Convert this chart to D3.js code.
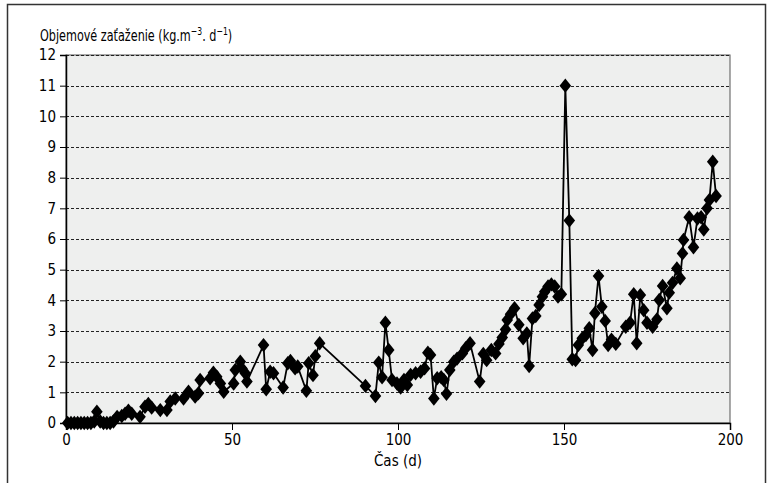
<!DOCTYPE html>
<html>
<head>
<meta charset="utf-8">
<script src="https://cdn.jsdelivr.net/npm/d3@7"></script>
<style>
	body { margin: 0; background: #fff; }
	svg { display: block; }
	text { font-family: "DejaVu Sans Condensed", "Liberation Sans Narrow", "DejaVu Sans", sans-serif; font-stretch: condensed; fill: #000; }
</style>
</head>
<body>
<div id="chart"></div>
<script>
'use strict';

// time in days
var days = [
	0.5, 1.5, 2.5, 3.5, 4.5, 5.5, 6.5, 7.5, 8.5, 9.3, 10.3, 11.3, 12.3, 13.3, 14.3,
	15.4, 16.8, 17.8, 18.8, 19.8, 22.3, 23.8, 24.8, 25.8, 28.4, 30.4, 31.4, 32.9,
	35.4, 36.9, 38.9, 39.9, 40.4, 43.4, 44.4, 45.4, 46.5, 47.5, 50.5, 51, 52.5, 53,
	54, 54.5, 59.5, 60.3, 61.5, 62.5, 65.4, 66.8, 67.6, 69, 69.8, 72.4, 73.1, 74.4,
	75.1, 76.4, 90.2, 93.2, 94.2, 95.2, 96.2, 97.2, 98.2, 99.7, 100.8, 101.8, 102.8,
	103.8, 105.3, 106.8, 108, 109, 109.8, 110.8, 111.8, 113, 113.8, 114.6, 115.6,
	116.8, 117.8, 119.4, 120.4, 121.7, 124.6, 125.7, 126.7, 128.1, 129.4, 130.4,
	131.4, 132.4, 132.9, 133.9, 135.1, 136.4, 137.7, 138.8, 139.5, 140.5, 141.5,
	142.5, 143.5, 144.2, 145.2, 146.2, 147.2, 148.2, 149.2, 150.4, 151.6, 152.5,
	153.5, 154.3, 155.5, 156.6, 157.6, 158.6, 159.3, 160.4, 161.4, 162.4, 163.3,
	164.3, 165.6, 168.6, 169.9, 171, 171.9, 173, 174, 175, 176.7, 178, 178.7, 179.7,
	181, 181.7, 182.7, 184, 185, 185.7, 186, 187.7, 189, 190.2, 191.3, 192.1, 193.1,
	193.8, 194.8, 195.8
];

// volumetric load, kg.m-3.d-1
var loads = [
	0, 0, 0, 0, 0, 0, 0, 0, 0.05, 0.37, 0.05, 0, 0, 0, 0.05,
	0.2, 0.23, 0.3, 0.4, 0.3, 0.2, 0.53, 0.62, 0.5, 0.42, 0.42, 0.7, 0.8,
	0.8, 1.02, 0.86, 0.97, 1.4, 1.46, 1.64, 1.51, 1.29, 1.02, 1.29, 1.73, 2.0, 1.78,
	1.62, 1.35, 2.54, 1.1, 1.67, 1.62, 1.16, 1.95, 2.02, 1.78, 1.84, 1.05, 1.95, 1.56,
	2.18, 2.6, 1.21, 0.88, 1.97, 1.49, 3.27, 2.38, 1.4, 1.29, 1.16, 1.4, 1.24,
	1.57, 1.62, 1.67, 1.78, 2.29, 2.22, 0.8, 1.46, 1.49, 1.4, 0.95, 1.73,
	2.0, 2.1, 2.27, 2.44, 2.6, 1.35, 2.25, 2.05, 2.38, 2.27, 2.58,
	2.79, 3.05, 3.36, 3.55, 3.74, 3.2, 2.76, 2.92, 1.86, 3.41, 3.49,
	3.85, 4.12, 4.28, 4.45, 4.52, 4.45, 4.12, 4.2, 11.0, 6.6, 2.08,
	2.05, 2.54, 2.76, 2.87, 3.09, 2.38, 3.58, 4.79, 3.79, 3.33, 2.54,
	2.72, 2.58, 3.14, 3.27, 4.2, 2.6, 4.17, 3.68, 3.27, 3.14, 3.38, 4.01, 4.47,
	3.74, 4.25, 4.57, 5.04, 4.72, 5.53, 5.97, 6.71, 5.73, 6.67, 6.71, 6.31, 7.0,
	7.27, 8.52, 7.4
];

var xTicks = [0, 50, 100, 150, 200];
var yTicks = [0, 1, 2, 3, 4, 5, 6, 7, 8, 9, 10, 11, 12];

var width = 771;
var height = 483;
var margin = { top: 55, right: 41, bottom: 60, left: 66 };
var plotW = width - margin.left - margin.right;
var plotH = height - margin.top - margin.bottom;

var points = days.map(function (d, i) {
	return { day: d, load: loads[i] };
});

var svg = d3.select("#chart").append("svg")
	.attr("width", width)
	.attr("height", height);

// outer frame
svg.append("rect")
	.attr("x", 7.5)
	.attr("y", 4.5)
	.attr("width", 758)
	.attr("height", 490)
	.attr("fill", "none")
	.attr("stroke", "#333")
	.attr("stroke-width", 1.5);

var x = d3.scaleLinear().domain([0, 200]).range([0, plotW]);
var y = d3.scaleLinear().domain([0, 12]).range([plotH, 0]);

var g = svg.append("g")
	.attr("transform", "translate(" + margin.left + "," + margin.top + ")");

g.append("rect")
	.attr("width", plotW)
	.attr("height", plotH)
	.attr("fill", "#eeefee")
	.attr("stroke", "#555")
	.attr("stroke-width", 1);

// dashed grid
g.selectAll(".grid")
	.data(yTicks.slice(1))
	.enter()
	.append("line")
	.attr("class", "grid")
	.attr("x1", 0)
	.attr("x2", plotW)
	.attr("y1", function (d) { return Math.round(y(d)) + 0.5; })
	.attr("y2", function (d) { return Math.round(y(d)) + 0.5; })
	.attr("stroke", "#222")
	.attr("stroke-width", 1)
	.attr("stroke-dasharray", "3,2");

// axes
var xAxis = g.append("g")
	.attr("transform", "translate(0," + plotH + ")")
	.call(d3.axisBottom(x).tickValues(xTicks).tickSize(7).tickPadding(4));

var yAxis = g.append("g")
	.call(d3.axisLeft(y).tickValues(yTicks).tickSize(6).tickPadding(4));

[xAxis, yAxis].forEach(function (a) {
	a.select(".domain").attr("stroke", "#000").attr("stroke-width", 1.5);
	a.selectAll(".tick line").attr("stroke", "#000");
	a.selectAll("text")
		.attr("font-size", 15)
		.attr("font-family", null);
});

// series line
var line = d3.line()
	.x(function (d) { return x(d.day); })
	.y(function (d) { return y(d.load); });

g.append("path")
	.datum(points)
	.attr("d", line)
	.attr("fill", "none")
	.attr("stroke", "#000")
	.attr("stroke-width", 1.8);

// diamond markers
var dw = 5.8;
var dh = 7.2;
g.selectAll(".marker")
	.data(points)
	.enter()
	.append("path")
	.attr("class", "marker")
	.attr("d", "M0," + (-dh) + "L" + dw + ",0L0," + dh + "L" + (-dw) + ",0Z")
	.attr("transform", function (d) {
		return "translate(" + x(d.day) + "," + y(d.load) + ")";
	})
	.attr("fill", "#000");

// y title with superscripts, squeezed to the narrow face of the original
var title = svg.append("text")
	.attr("transform", "translate(40,41) scale(0.78,1)")
	.attr("font-size", 16);
title.append("tspan").text("Objemové zaťaženie (kg.m");
title.append("tspan").attr("dy", -6).attr("font-size", 11).text("−3");
title.append("tspan").attr("dy", 6).text(". d");
title.append("tspan").attr("dy", -6).attr("font-size", 11).text("−1");
title.append("tspan").attr("dy", 6).text(")");

// x title
svg.append("text")
	.attr("x", margin.left + plotW / 2)
	.attr("y", 466)
	.attr("text-anchor", "middle")
	.attr("font-size", 15)
	.text("Čas (d)");
</script>
</body>
</html>
